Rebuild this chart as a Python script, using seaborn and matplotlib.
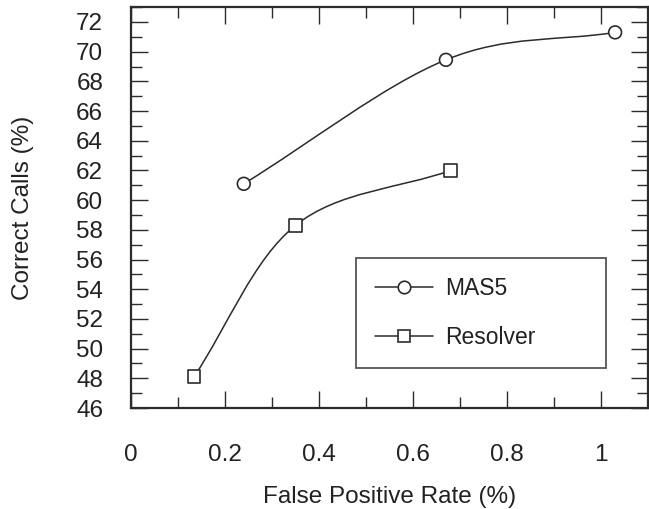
import numpy as np
import pandas as pd
import matplotlib
matplotlib.use('Agg')
import matplotlib.pyplot as plt
import seaborn as sns
from matplotlib.path import Path
from matplotlib.patches import PathPatch
from matplotlib.lines import Line2D
from matplotlib.ticker import MultipleLocator, FormatStrFormatter

# 数据
mas5_fpr = [0.24, 0.67, 1.03]
mas5_correct = [61.1, 69.45, 71.3]
resolver_fpr = [0.134, 0.35, 0.68]
resolver_correct = [48.1, 58.3, 62.0]

sns.set_theme(style='ticks')
plt.rcParams['font.family'] = ['Liberation Sans', 'DejaVu Sans']

ink = '#2b2b2b'


def smooth_path(xs, ys):
    # Catmull-Rom 曲线连接数据点（仅用于绘制连线）
    pts = np.column_stack([xs, ys]).astype(float)
    n = len(pts)
    tang = np.zeros_like(pts)
    for i in range(n):
        if i == 0:
            tang[i] = pts[1] - pts[0]
        elif i == n - 1:
            tang[i] = pts[-1] - pts[-2]
        else:
            tang[i] = (pts[i + 1] - pts[i - 1]) / 2
    verts = [pts[0]]
    codes = [Path.MOVETO]
    for i in range(n - 1):
        verts += [pts[i] + tang[i] / 3, pts[i + 1] - tang[i + 1] / 3, pts[i + 1]]
        codes += [Path.CURVE4] * 3
    return Path(verts, codes)


fig, ax = plt.subplots(figsize=(6.49, 5.09), dpi=100)
fig.subplots_adjust(left=0.2018, right=0.9985, top=0.986, bottom=0.1984)

for xs, ys in [(mas5_fpr, mas5_correct), (resolver_fpr, resolver_correct)]:
    ax.add_patch(PathPatch(smooth_path(xs, ys), fill=False, edgecolor=ink, lw=1.1, zorder=2))

df = pd.concat([
    pd.DataFrame({'fpr': mas5_fpr, 'correct': mas5_correct, 'method': 'MAS5'}),
    pd.DataFrame({'fpr': resolver_fpr, 'correct': resolver_correct, 'method': 'Resolver'}),
])
sns.scatterplot(data=df, x='fpr', y='correct', style='method',
                markers={'MAS5': 'o', 'Resolver': 's'}, s=85,
                facecolor='white', edgecolor=ink, linewidth=1.2,
                legend=False, ax=ax, zorder=3)

ax.set_xlim(0, 1.1)
ax.set_ylim(46, 73)
ax.xaxis.set_major_locator(MultipleLocator(0.2))
ax.xaxis.set_minor_locator(MultipleLocator(0.1))
ax.yaxis.set_major_locator(MultipleLocator(2))
ax.yaxis.set_minor_locator(MultipleLocator(1))
ax.xaxis.set_major_formatter(FormatStrFormatter('%g'))

ax.tick_params(which='both', direction='in', top=True, right=True,
               colors=ink, width=1.0, labelcolor='#222222', labelsize=17.5)
ax.tick_params(which='major', length=12)
ax.tick_params(which='minor', length=8)
ax.tick_params(axis='y', which='major', pad=20)
ax.tick_params(axis='x', which='major', pad=26)
for sp in ax.spines.values():
    sp.set_linewidth(1.6)
    sp.set_color(ink)

ax.set_xlabel('False Positive Rate (%)', fontsize=17.5, color='#222222', labelpad=14)
ax.set_ylabel('Correct Calls (%)', fontsize=17.5, color='#222222', labelpad=30)

handles = [
    Line2D([], [], color=ink, lw=1.1, marker='o', markersize=9,
           markerfacecolor='white', markeredgecolor=ink, markeredgewidth=1.2),
    Line2D([], [], color=ink, lw=1.1, marker='s', markersize=8.5,
           markerfacecolor='white', markeredgecolor=ink, markeredgewidth=1.2),
]
leg = ax.legend(handles, ['MAS5', 'Resolver'], loc='lower left',
                bbox_to_anchor=(0.435, 0.0998, 0.484, 0.274), mode='expand',
                borderaxespad=0, fontsize=16.5, frameon=True, fancybox=False,
                handlelength=2.5, handletextpad=0.55, labelspacing=1.1,
                borderpad=0.85)
leg.get_frame().set_edgecolor(ink)
leg.get_frame().set_linewidth(1.3)
for t in leg.get_texts():
    t.set_color('#222222')

plt.savefig('out.png', dpi=100)
